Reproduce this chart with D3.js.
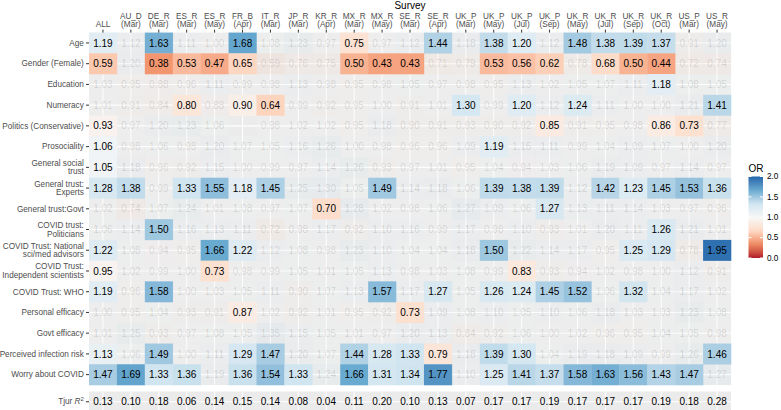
<!DOCTYPE html>
<html><head><meta charset="utf-8">
<script src="https://cdn.jsdelivr.net/npm/d3@7"></script>
<style>body{margin:0;background:#fff;} svg{display:block;font-family:"Liberation Sans",Arial,sans-serif;}</style>
</head><body><svg id="c" width="781" height="410"></svg>
<script>
const columns = ["ALL","AU_D (Mar)","DE_R (Mar)","ES_R (Mar)","ES_R (May)","FR_B (Apr)","IT_R (Mar)","JP_R (Mar)","KR_R (Apr)","MX_R (Mar)","MX_R (May)","SE_R (Mar)","SE_R (Apr)","UK_P (Mar)","UK_P (May)","UK_P (Jul)","UK_P (Sep)","UK_R (May)","UK_R (Jul)","UK_R (Sep)","UK_R (Oct)","US_P (Mar)","US_R (May)"];
const rows = ["Age","Gender (Female)","Education","Numeracy","Politics (Conservative)","Prosociality","General social\ntrust","General trust:\nExperts","General trust:Govt","COVID trust:\nPoliticians","COVID Trust: National\nsci/med advisors","COVID Trust:\nIndependent scientists","COVID Trust: WHO","Personal efficacy","Govt efficacy","Perceived infection risk","Worry about COVID"];
const orValues = [
 [1.19,1.12,1.63,1.11,1.00,1.68,1.08,1.23,0.97,0.75,0.97,1.12,1.44,1.18,1.38,1.20,1.12,1.48,1.38,1.39,1.37,0.91,1.20],
 [0.59,1.20,0.38,0.53,0.47,0.65,0.59,0.76,0.75,0.50,0.43,0.43,0.71,0.79,0.53,0.56,0.62,0.78,0.68,0.50,0.44,0.72,0.74],
 [1.03,0.95,0.88,0.96,1.11,0.99,0.98,1.13,0.98,0.95,0.98,1.05,0.97,0.98,0.95,1.13,1.02,1.05,1.07,1.11,1.18,1.08,1.05],
 [1.01,0.91,0.84,0.80,0.88,0.90,0.64,0.99,0.92,0.95,1.00,0.91,1.01,1.30,0.99,1.20,1.12,1.24,1.11,1.00,1.00,1.21,1.41],
 [0.93,0.97,1.20,1.23,1.06,null,0.98,1.02,1.02,0.95,1.18,0.90,0.91,0.93,0.90,0.92,0.85,0.91,0.95,0.98,0.86,0.73,0.77],
 [1.06,0.98,1.06,0.98,1.20,1.07,1.05,1.16,1.26,1.00,0.98,0.96,0.96,1.09,1.19,1.15,1.11,0.99,1.04,1.09,1.07,1.00,1.20],
 [1.05,1.18,0.96,0.92,1.15,1.00,0.99,0.97,1.14,1.26,0.93,0.97,1.01,0.95,1.04,0.94,1.03,1.06,1.19,1.09,0.97,1.14,0.97],
 [1.28,1.38,0.99,1.33,1.55,1.18,1.45,1.25,1.30,1.05,1.49,1.14,1.18,1.06,1.39,1.38,1.39,1.12,1.42,1.23,1.45,1.53,1.36],
 [1.02,0.74,1.07,1.24,1.01,1.08,0.97,1.07,0.70,1.28,1.02,0.98,1.06,1.27,1.09,1.06,1.27,1.13,1.11,1.14,1.03,0.97,0.96],
 [1.06,1.14,1.50,1.16,1.13,1.11,0.72,0.98,1.17,0.92,1.10,1.16,0.99,1.17,0.98,1.10,0.93,1.01,1.20,1.11,1.26,1.21,1.01],
 [1.22,1.08,0.94,0.95,1.66,1.22,1.12,1.08,0.98,1.23,1.10,1.04,1.04,1.18,1.50,1.22,1.14,1.17,0.95,1.25,1.29,0.78,1.95],
 [0.95,1.02,0.99,1.00,0.73,0.98,0.99,1.05,1.01,1.05,1.13,0.98,1.03,1.08,0.99,0.83,0.93,0.94,1.02,0.98,1.00,1.12,0.91],
 [1.19,0.96,1.58,1.00,1.03,1.05,1.11,0.90,1.07,1.13,1.57,1.17,1.27,1.05,1.26,1.24,1.45,1.52,1.06,1.32,1.04,1.17,1.02],
 [1.00,0.95,1.04,0.93,0.91,0.87,1.02,0.92,1.01,0.95,0.92,0.73,1.09,1.08,1.10,1.05,1.10,1.06,1.18,1.03,1.03,1.23,1.08],
 [1.01,1.25,0.93,0.97,1.08,1.05,1.35,1.15,1.05,1.01,0.97,1.20,1.13,0.84,0.92,1.06,1.00,1.02,0.96,0.95,1.04,1.05,0.98],
 [1.13,1.06,1.49,1.00,1.11,1.29,1.47,1.20,1.07,1.44,1.28,1.33,0.79,1.18,1.39,1.30,1.04,1.19,1.18,1.09,0.99,1.26,1.46],
 [1.47,1.69,1.33,1.36,1.19,1.36,1.54,1.33,1.24,1.66,1.31,1.34,1.77,1.10,1.25,1.41,1.37,1.58,1.63,1.56,1.43,1.47,1.27]
];
const significant = [
 [1,0,1,0,0,1,0,0,0,1,0,0,1,0,1,1,0,1,1,1,1,0,0],
 [1,0,1,1,1,1,0,0,0,1,1,1,0,0,1,1,1,0,1,1,1,0,0],
 [0,0,0,0,0,0,0,0,0,0,0,0,0,0,0,0,0,0,0,0,1,0,0],
 [0,0,0,1,0,1,1,0,0,0,0,0,0,1,0,1,0,1,0,0,0,0,1],
 [1,0,0,0,0,0,0,0,0,0,0,0,0,0,0,0,1,0,0,0,1,1,0],
 [1,0,0,0,0,0,0,0,0,0,0,0,0,0,1,0,0,0,0,0,0,0,0],
 [1,0,0,0,0,0,0,0,0,0,0,0,0,0,0,0,0,0,0,0,0,0,0],
 [1,1,0,1,1,1,1,0,0,0,1,0,0,0,1,1,1,0,1,1,1,1,1],
 [0,0,0,0,0,0,0,0,1,0,0,0,0,0,0,0,1,0,0,0,0,0,0],
 [0,0,1,0,0,0,0,0,0,0,0,0,0,0,0,0,0,0,0,0,1,0,0],
 [1,0,0,0,1,1,0,0,0,0,0,0,0,0,1,0,0,0,0,1,1,0,1],
 [1,0,0,0,1,0,0,0,0,0,0,0,0,0,0,1,0,0,0,0,0,0,0],
 [1,0,1,0,0,0,0,0,0,0,1,0,1,0,1,1,1,1,0,1,0,0,0],
 [0,0,0,0,0,1,0,0,0,0,0,1,0,0,0,0,0,0,0,0,0,0,0],
 [0,0,0,0,0,0,0,0,0,0,0,0,0,0,0,0,0,0,0,0,0,0,0],
 [1,0,1,0,0,1,1,0,0,1,1,1,1,0,1,1,0,0,0,0,0,0,1],
 [1,1,1,1,0,1,1,1,0,1,1,1,1,0,1,1,1,1,1,1,1,1,0]
];
const tjurR2 = [0.13,0.10,0.18,0.06,0.14,0.15,0.14,0.08,0.04,0.11,0.20,0.10,0.13,0.07,0.17,0.17,0.19,0.17,0.17,0.17,0.19,0.18,0.28];
const legendBreaks = [0.0,0.5,1.0,1.5,2.0];
const paletteRdBu = ["#B2182B","#EF8A62","#FDDBC7","#F7F7F7","#D1E5F0","#67A9CF","#2166AC"];

const AX = 8.2, CELL = 10;
const svg = d3.select("#c");
const L = 89, R = 731, T = 32.6, B = 385;
const x = d3.scaleBand().domain(columns).range([L, R]);
const y = d3.scaleBand().domain(rows).range([T, B]);
const yT = d3.scaleBand().domain(["Tjur"]).range([391.5, 412]);
const color = d3.scaleLinear().domain(d3.range(7).map(i => i * 2 / 6)).range(paletteRdBu).interpolate(d3.interpolateLab).clamp(true);

const cells = [];
rows.forEach((r, i) => columns.forEach((c, j) => {
  if (orValues[i][j] != null) cells.push({r, c, v: orValues[i][j], s: significant[i][j]});
}));

// panels
svg.append("rect").attr("x", L).attr("y", T).attr("width", R - L).attr("height", B - T).attr("fill", "#EBEBEB");
svg.append("rect").attr("x", L).attr("y", yT.range()[0]).attr("width", R - L).attr("height", yT.bandwidth()).attr("fill", "#EBEBEB");
const grid = svg.append("g").attr("stroke", "#fff").attr("stroke-width", 1.07);
columns.forEach(c => {
  const cx = x(c) + x.bandwidth() / 2;
  grid.append("line").attr("x1", cx).attr("x2", cx).attr("y1", T).attr("y2", B);
  grid.append("line").attr("x1", cx).attr("x2", cx).attr("y1", yT.range()[0]).attr("y2", yT.range()[1]);
});
rows.forEach(r => {
  const cy = y(r) + y.bandwidth() / 2;
  grid.append("line").attr("x1", L).attr("x2", R).attr("y1", cy).attr("y2", cy);
});
grid.append("line").attr("x1", L).attr("x2", R).attr("y1", yT("Tjur") + yT.bandwidth() / 2).attr("y2", yT("Tjur") + yT.bandwidth() / 2);

svg.append("g").selectAll("rect").data(cells).join("rect")
  .attr("x", d => x(d.c)).attr("y", d => y(d.r))
  .attr("width", x.bandwidth() + 0.3).attr("height", y.bandwidth() + 0.3)
  .attr("fill", d => color(d.v)).attr("fill-opacity", d => d.s ? 1 : 0.2);

svg.append("g").selectAll("text").data(cells).join("text")
  .attr("x", d => x(d.c) + x.bandwidth() / 2).attr("y", d => y(d.r) + y.bandwidth() / 2)
  .attr("dy", "0.36em").attr("text-anchor", "middle").attr("font-size", CELL)
  .attr("fill", "#000").attr("fill-opacity", d => d.s ? 1 : 0.13)
  .text(d => d3.format(".2f")(d.v));

svg.append("g").selectAll("text").data(tjurR2).join("text")
  .attr("x", (d, j) => x(columns[j]) + x.bandwidth() / 2).attr("y", yT("Tjur") + yT.bandwidth() / 2)
  .attr("dy", "0.36em").attr("text-anchor", "middle").attr("font-size", CELL).attr("fill", "#000")
  .text(d => d3.format(".2f")(d));

// top axis
const xAxis = svg.append("g").attr("transform", `translate(0,${T})`)
  .call(d3.axisTop(x).tickSize(3).tickPadding(2.2));
xAxis.select(".domain").remove();
xAxis.selectAll(".tick line").attr("stroke", "#333");
xAxis.selectAll(".tick text").attr("font-size", AX).attr("fill", "#4D4D4D").attr("font-family", null)
  .each(function(d) {
    const parts = d.split(" ");
    const t = d3.select(this).text("");
    parts.forEach((p, k) => t.append("tspan").attr("x", 0).attr("dy", k ? "1.02em" : (parts.length > 1 ? "-1.02em" : 0)).text(p));
  });
svg.append("text").attr("x", (L + R) / 2).attr("y", 8.8).attr("text-anchor", "middle")
  .attr("font-size", 10).attr("fill", "#000").text("Survey");

// left axis
const yAxis = svg.append("g").attr("transform", `translate(${L},0)`)
  .call(d3.axisLeft(y).tickSize(3).tickPadding(2.2));
yAxis.select(".domain").remove();
yAxis.selectAll(".tick line").attr("stroke", "#333");
yAxis.selectAll(".tick text").attr("font-size", AX).attr("fill", "#4D4D4D").attr("font-family", null)
  .each(function(d) {
    const parts = d.split("\n");
    const t = d3.select(this).text("");
    parts.forEach((p, k) => t.append("tspan").attr("x", -5.2)
      .attr("dy", k ? "1.06em" : ((0.34 - 0.53 * (parts.length - 1)) + "em")).text(p));
  });
yAxis.selectAll(".tick text").attr("dy", null);

const yAxisT = svg.append("g").attr("transform", `translate(${L},0)`)
  .call(d3.axisLeft(yT).tickSize(3).tickPadding(2.2));
yAxisT.select(".domain").remove();
yAxisT.selectAll(".tick line").attr("stroke", "#333");
yAxisT.selectAll(".tick text").attr("font-size", AX).attr("fill", "#4D4D4D").attr("font-family", null)
  .each(function() {
    const t = d3.select(this).text("");
    t.append("tspan").text("Tjur ");
    t.append("tspan").attr("font-style", "italic").text("R");
    t.append("tspan").attr("font-size", 6).attr("dy", "-0.6em").text("2");
  });

// legend
const lg = svg.append("g");
lg.append("text").attr("x", 748.5).attr("y", 172).attr("font-size", 10).attr("fill", "#000").text("OR");
const barTop = 176.5, barBot = 258, barX = 748.5, barW = 14.5;
const ly = d3.scaleLinear().domain([0, 2]).range([barBot, barTop]);
const defs = svg.append("defs");
const grad = defs.append("linearGradient").attr("id", "g").attr("x1", 0).attr("y1", 1).attr("x2", 0).attr("y2", 0);
d3.range(0, 2.0001, 0.1).forEach(v => grad.append("stop").attr("offset", v / 2).attr("stop-color", color(v)));
lg.append("rect").attr("x", barX).attr("y", barTop).attr("width", barW).attr("height", barBot - barTop).attr("fill", "url(#g)");
legendBreaks.forEach(b => {
  lg.append("line").attr("x1", barX).attr("x2", barX + 3).attr("y1", ly(b)).attr("y2", ly(b)).attr("stroke", "#fff");
  lg.append("line").attr("x1", barX + barW - 3).attr("x2", barX + barW).attr("y1", ly(b)).attr("y2", ly(b)).attr("stroke", "#fff");
  lg.append("text").attr("x", barX + barW + 4).attr("y", ly(b)).attr("dy", "0.35em")
    .attr("font-size", AX).attr("fill", "#000").text(d3.format(".1f")(b));
});
</script></body></html>
